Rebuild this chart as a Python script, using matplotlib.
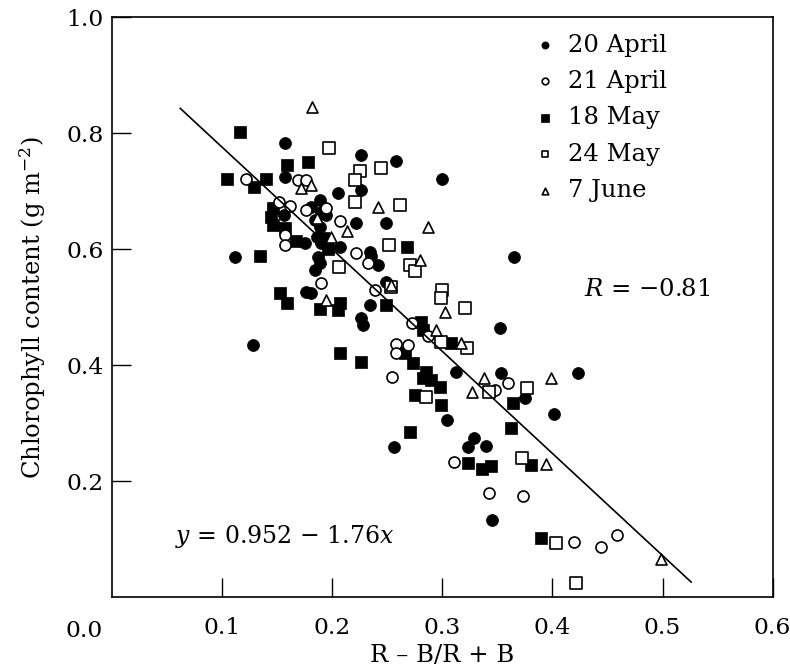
import matplotlib
matplotlib.use("Agg")
import matplotlib.pyplot as plt

plt.rcParams['font.family'] = ['DejaVu Serif']
plt.rcParams['mathtext.fontset'] = 'dejavuserif'

# ---- data ----
labels = ["20 April", "21 April", "18 May", "24 May", "7 June"]

apr20_x = [0.157, 0.226, 0.258, 0.300, 0.226, 0.205, 0.157, 0.156, 0.112, 0.128,
           0.189, 0.181, 0.190, 0.184, 0.189, 0.186, 0.190, 0.222, 0.249, 0.175,
           0.207, 0.234, 0.235, 0.2415, 0.184, 0.187, 0.1886, 0.249, 0.1765, 0.181,
           0.234, 0.2264, 0.228, 0.352, 0.365, 0.3127, 0.3536, 0.423, 0.375, 0.401,
           0.304, 0.329, 0.323, 0.3395, 0.2558, 0.3454, 0.194]
apr20_y = [0.783, 0.763, 0.752, 0.722, 0.702, 0.697, 0.725, 0.659, 0.586, 0.435,
           0.685, 0.673, 0.665, 0.651, 0.639, 0.622, 0.610, 0.646, 0.646, 0.610,
           0.604, 0.596, 0.589, 0.573, 0.564, 0.587, 0.576, 0.544, 0.527, 0.525,
           0.504, 0.481, 0.4695, 0.464, 0.587, 0.389, 0.387, 0.387, 0.343, 0.316,
           0.306, 0.274, 0.2586, 0.261, 0.2597, 0.1333, 0.659]

apr21_x = [0.122, 0.169, 0.1765, 0.152, 0.162, 0.157, 0.157, 0.1765, 0.1946, 0.207,
           0.222, 0.2324, 0.190, 0.2388, 0.2725, 0.2576, 0.269, 0.2576, 0.2546, 0.287,
           0.3597, 0.3475, 0.311, 0.3423, 0.3732, 0.420, 0.4444, 0.4586]
apr21_y = [0.721, 0.720, 0.720, 0.682, 0.675, 0.625, 0.607, 0.668, 0.671, 0.648,
           0.594, 0.576, 0.541, 0.530, 0.4735, 0.4367, 0.435, 0.4207, 0.3803, 0.450,
           0.370, 0.357, 0.234, 0.179, 0.1747, 0.096, 0.086, 0.107]

may18_x = [0.116, 0.159, 0.178, 0.104, 0.1395, 0.1286, 0.146, 0.1447, 0.146, 0.157,
           0.1668, 0.1347, 0.153, 0.159, 0.1886, 0.2067, 0.2052, 0.249, 0.268, 0.281,
           0.2824, 0.2067, 0.2264, 0.2658, 0.2733, 0.2855, 0.290, 0.2976, 0.2824, 0.2755,
           0.299, 0.2703, 0.308, 0.3641, 0.362, 0.3234, 0.3364, 0.3445, 0.3808, 0.390,
           0.192, 0.196]
may18_y = [0.803, 0.745, 0.751, 0.722, 0.722, 0.707, 0.671, 0.656, 0.642, 0.636,
           0.614, 0.5885, 0.525, 0.508, 0.4966, 0.507, 0.4953, 0.504, 0.6045, 0.475,
           0.461, 0.4207, 0.4062, 0.4207, 0.4034, 0.389, 0.3747, 0.363, 0.3776, 0.3488,
           0.3316, 0.2855, 0.439, 0.3345, 0.2924, 0.232, 0.2207, 0.2264, 0.228, 0.1017,
           0.620, 0.600]

may24_x = [0.197, 0.225, 0.2446, 0.2203, 0.221, 0.2618, 0.2513, 0.206, 0.2703, 0.2755,
           0.300, 0.2985, 0.3203, 0.2537, 0.299, 0.322, 0.2855, 0.3423, 0.3772, 0.3726,
           0.4036, 0.4217]
may24_y = [0.774, 0.7356, 0.7397, 0.7195, 0.682, 0.676, 0.6074, 0.569, 0.573, 0.5626,
           0.530, 0.5155, 0.4983, 0.5355, 0.4407, 0.4293, 0.3459, 0.3545, 0.360, 0.2407,
           0.0931, 0.0241]

jun7_x = [0.1816, 0.172, 0.181, 0.2417, 0.1865, 0.2134, 0.2869, 0.199, 0.2793, 0.2537,
          0.1946, 0.302, 0.2946, 0.3172, 0.3378, 0.3272, 0.3985, 0.3945, 0.4983]
jun7_y = [0.846, 0.705, 0.711, 0.673, 0.6534, 0.632, 0.639, 0.6217, 0.5816, 0.5385,
          0.5126, 0.4924, 0.461, 0.438, 0.3776, 0.3545, 0.3786, 0.2298, 0.0655]

fit_intercept = 0.952
fit_slope = -1.76
fit_xrange = [0.062, 0.526]

xticks = [0.1, 0.2, 0.3, 0.4, 0.5, 0.6]
xticklabels = ["0.1", "0.2", "0.3", "0.4", "0.5", "0.6"]
yticks = [0.2, 0.4, 0.6, 0.8, 1.0]
yticklabels = ["0.2", "0.4", "0.6", "0.8", "1.0"]

FS = 17.5
TFS = 16.8

# ---- figure ----
fig = plt.figure(figsize=(7.9, 6.72), dpi=100)
ax = fig.add_axes([0.1418, 0.1112, 0.8362, 0.8631])
ax.set_xlim(0, 0.6)
ax.set_ylim(0, 1.0)

ms = 74
lw = 1.2
ax.scatter(apr20_x, apr20_y, s=ms, marker='o', c='black', edgecolors='black',
           linewidths=0.5, label=labels[0], zorder=3)
ax.scatter(apr21_x, apr21_y, s=ms * 0.85, marker='o', c='white', edgecolors='black',
           linewidths=lw, label=labels[1], zorder=4)
ax.scatter(may18_x, may18_y, s=ms, marker='s', c='black', edgecolors='black',
           linewidths=0.5, label=labels[2], zorder=3)
ax.scatter(may24_x, may24_y, s=ms * 0.85, marker='s', c='white', edgecolors='black',
           linewidths=lw, label=labels[3], zorder=4)
ax.scatter(jun7_x, jun7_y, s=ms * 0.85, marker='^', c='white', edgecolors='black',
           linewidths=lw, label=labels[4], zorder=4)

fx = fit_xrange
fy = [fit_intercept + fit_slope * v for v in fx]
ax.plot(fx, fy, color='black', linewidth=1.2, zorder=5)

ax.set_xticks(xticks)
ax.set_xticklabels(xticklabels)
ax.set_yticks(yticks)
ax.set_yticklabels(yticklabels)
ax.tick_params(axis='both', direction='in', length=14, width=1.0, labelsize=TFS)
ax.tick_params(axis='x', pad=14)
ax.tick_params(axis='y', pad=6)
for sp in ax.spines.values():
    sp.set_linewidth(1.2)

# corner "0.0" label (shared by both axes in the reference)
ax.text(-0.0135, -0.058, "0.0", transform=ax.transAxes, ha='right', va='center',
        fontsize=TFS)

ax.set_xlabel("R \u2013 B/R + B", fontsize=FS, labelpad=4)
ax.set_ylabel(r"Chlorophyll content (g m$^{-2}$)", fontsize=FS, labelpad=13)

ax.text(0.429, 0.53, r"$R$ = " + "\u22120.81", fontsize=FS, ha='left', va='center')
ax.text(0.057, 0.104, r"$y$ = 0.952 " + "\u2212" + r" 1.76$x$", fontsize=17,
        ha='left', va='center')

leg = ax.legend(loc='upper left', bbox_to_anchor=(0.641, 0.972), frameon=False,
                fontsize=FS, markerscale=0.6, handletextpad=0.55, labelspacing=0.55,
                borderaxespad=0.0, borderpad=0.0, handlelength=0.8)

fig.savefig("out.png", dpi=100)
